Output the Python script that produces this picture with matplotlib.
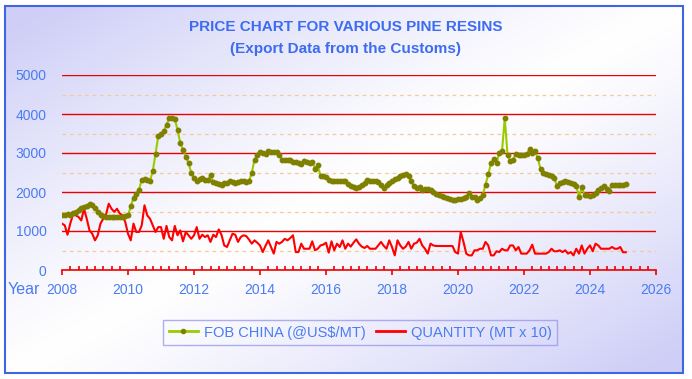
import numpy as np
import matplotlib
matplotlib.use("Agg")
import matplotlib.pyplot as plt
from matplotlib.patches import Rectangle
from matplotlib.lines import Line2D

plt.rcParams['font.family'] = ['Liberation Sans', 'DejaVu Sans']

# monthly series, Jan 2008 .. Feb 2025
start_year = 2008
fob_china = [
    1420, 1420, 1430, 1420, 1460, 1500, 1540, 1590, 1620, 1650, 1680, 1670,  # 2008
    1600, 1500, 1400, 1380, 1370, 1360, 1360, 1370, 1360, 1370, 1360, 1380,  # 2009
    1400, 1630, 1850, 1960, 2060, 2320, 2330, 2300, 2290, 2530, 2980, 3430,  # 2010
    3480, 3560, 3730, 3900, 3900, 3870, 3600, 3260, 3085, 2900, 2750, 2490,  # 2011
    2350, 2270, 2330, 2360, 2320, 2300, 2430, 2250, 2220, 2200, 2190, 2230,  # 2012
    2240, 2270, 2250, 2240, 2250, 2280, 2270, 2260, 2270, 2490, 2830, 2960,  # 2013
    3020, 3000, 2985, 3040, 3030, 3020, 3020, 2960, 2830, 2820, 2810, 2820,  # 2014
    2780, 2760, 2740, 2730, 2790, 2770, 2750, 2760, 2600, 2680, 2420, 2400,  # 2015
    2380, 2300, 2270, 2270, 2270, 2270, 2270, 2270, 2200, 2150, 2130, 2100,  # 2016
    2120, 2190, 2230, 2320, 2290, 2270, 2270, 2250, 2180, 2100, 2180, 2230,  # 2017
    2280, 2330, 2360, 2420, 2440, 2470, 2400, 2270, 2150, 2100, 2120, 2060,  # 2018
    2070, 2080, 2040, 1990, 1960, 1920, 1900, 1870, 1840, 1820, 1800, 1785,  # 2019
    1820, 1830, 1845, 1860, 1975, 1880, 1870, 1785, 1840, 1930, 2190, 2450,  # 2020
    2740, 2850, 2740, 3000, 3040, 3900, 2960, 2790, 2830, 2980, 2960, 2960,  # 2021
    2960, 2970, 3100, 3000, 3040, 2870, 2590, 2490, 2460, 2440, 2400, 2360,  # 2022
    2160, 2220, 2260, 2290, 2250, 2220, 2210, 2160, 1870, 2120, 1930, 1920,  # 2023
    1900, 1920, 1975, 2060, 2100, 2150, 2080, 2030, 2180, 2180, 2170, 2180,  # 2024
    2190, 2200,                                                              # 2025
]
quantity = [
    1190, 1145, 905, 1190, 1420, 1400, 1360, 1270, 1570, 1315, 1015, 930,
    760, 890, 1190, 1315, 1420, 1700, 1570, 1490, 1570, 1450, 1400, 1230,
    930, 760, 1190, 975, 975, 1145, 1660, 1400, 1315, 1145, 975, 1100,
    1100, 800, 1130, 845, 760, 1130, 890, 1015, 735, 975, 890, 800,
    890, 1100, 800, 905, 845, 890, 720, 905, 845, 1040, 900, 630,
    590, 760, 930, 905, 720, 845, 890, 870, 780, 675, 760, 700,
    630, 460, 620, 760, 590, 420, 720, 675, 720, 800, 760, 820,
    890, 460, 460, 675, 545, 545, 545, 735, 505, 545, 630, 650,
    700, 445, 735, 505, 675, 590, 760, 545, 675, 600, 700, 785,
    675, 600, 565, 615, 545, 545, 545, 630, 720, 620, 545, 760,
    590, 375, 760, 630, 545, 600, 720, 545, 675, 700, 800, 630,
    545, 420, 675, 630, 615, 615, 615, 615, 615, 615, 615, 460,
    420, 975, 720, 420, 375, 375, 505, 505, 545, 545, 720, 630,
    375, 375, 480, 460, 545, 505, 505, 630, 630, 505, 590, 420,
    420, 420, 505, 650, 420, 420, 420, 420, 420, 460, 545, 480,
    480, 505, 460, 505, 420, 460, 375, 545, 420, 630, 420, 545,
    630, 480, 675, 630, 545, 545, 545, 545, 590, 545, 545, 590,
    455, 455,
]
year_ticks = list(range(2008, 2027, 2))
value_ticks = [0, 1000, 2000, 3000, 4000, 5000]
half_ticks = [500, 1500, 2500, 3500, 4500]

blue_txt = '#4a7cf2'
W, H = 692, 379

fig = plt.figure(figsize=(W / 100, H / 100), dpi=100)

# background gradient (lavender corners, white diagonal band)
bg = fig.add_axes([0, 0, 1, 1], zorder=-10)
gy, gx = np.mgrid[0:1:200j, 0:1:360j]
t = np.clip(np.abs((gx + gy) - 1.0) * 1.1, 0, 1) ** 1.2
lav = np.array([0.81, 0.81, 0.97])
img = 1 - t[..., None] * (1 - lav)
bg.imshow(img, extent=[0, 1, 0, 1], aspect='auto', origin='upper')
bg.axis('off')
# white margin and blue frame
fig.patches.append(Rectangle((5 / W, 1 - 373 / H), 678 / W, 367 / H, transform=fig.transFigure,
                             fill=False, edgecolor='#3f66e0', lw=1.5, zorder=5))
for r in [(0, 0, 5 / W, 1), (683 / W, 0, 1, 1), (0, 0, 1, 6 / H), (0, 1 - 5 / H, 1, 1)]:
    fig.patches.append(Rectangle((r[0], r[1]), r[2], r[3], transform=fig.transFigure,
                                 facecolor='white', edgecolor='none', zorder=4))

fig.text(0.5, 1 - 27 / H, 'PRICE CHART FOR VARIOUS PINE RESINS', ha='center', va='center',
         fontsize=11, fontweight='bold', color='#3d6cf0')
fig.text(0.5, 1 - 49 / H, '(Export Data from the Customs)', ha='center', va='center',
         fontsize=11, fontweight='bold', color='#3d6cf0')

ax = fig.add_axes([62 / W, 1 - 270 / H, 594 / W, 195 / H])
ax.patch.set_alpha(0)

months = start_year + np.arange(len(fob_china)) / 12
ax.plot(months, quantity, color='#ff0000', lw=1.5, zorder=3)
ax.plot(months, fob_china, color='#99cc00', lw=1.5, marker='o', markersize=3.2,
        markerfacecolor='#808000', markeredgecolor='#808000', zorder=4)

for v in value_ticks[1:]:
    ax.axhline(v, color='#ee0000', lw=1.0, zorder=1)
for v in half_ticks:
    ax.axhline(v, color='#f8c898', lw=0.9, ls=(0, (3, 3)), zorder=1)

ax.set_xlim(2008, 2026)
ax.set_ylim(0, 5000)
for s in ['top', 'right', 'left']:
    ax.spines[s].set_visible(False)
ax.spines['bottom'].set_color('#ee0000')
ax.spines['bottom'].set_linewidth(1.2)

ax.set_yticks(value_ticks)
ax.set_xticks(year_ticks)
ax.set_xticks(np.arange(2008, 2026.01, 0.25), minor=True)
ax.tick_params(axis='y', length=0, pad=11, labelsize=10, labelcolor=blue_txt)
ax.tick_params(axis='x', which='major', direction='out', length=3.5, width=1.2,
               color='#ee0000', pad=6, labelsize=10, labelcolor=blue_txt)
ax.tick_params(axis='x', which='minor', direction='in', length=3, width=1.2, color='#ee0000')

fig.text(8 / W, 1 - 289 / H, 'Year', ha='left', va='center', fontsize=11.5, color=blue_txt)

handles = [Line2D([], [], color='#99cc00', lw=2, marker='o', markersize=3,
                  markerfacecolor='#808000', markeredgecolor='#808000'),
           Line2D([], [], color='#ff0000', lw=2)]
leg = fig.legend(handles, ['FOB CHINA (@US$/MT)', 'QUANTITY (MT x 10)'], ncol=2,
                 loc='center', bbox_to_anchor=(360 / W, 1 - 332.5 / H), frameon=True,
                 fontsize=10.5, labelcolor=blue_txt, handlelength=2.0, handletextpad=0.4,
                 columnspacing=0.7, borderpad=0.35, fancybox=False, markerscale=1)
leg.get_frame().set_edgecolor('#9a9af0')
leg.get_frame().set_facecolor('none')
leg.get_frame().set_linewidth(1.0)

fig.savefig('out.png', dpi=100)
